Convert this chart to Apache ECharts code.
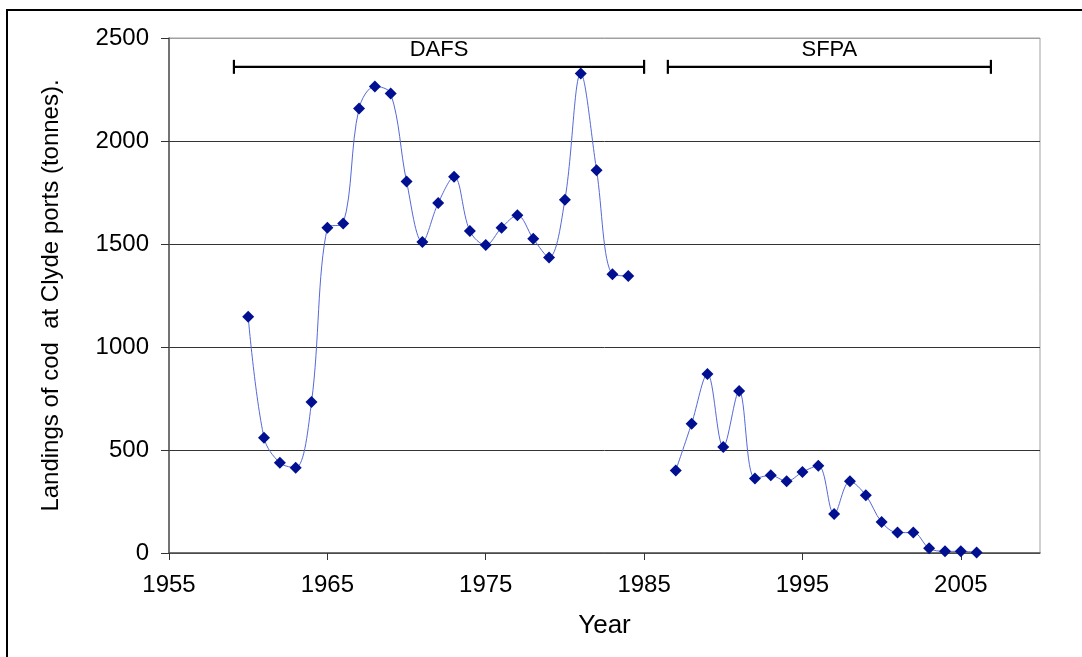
<!DOCTYPE html>
<html style="height: 100%">

<head>
    <meta charset="utf-8">
</head>

<body style="height: 100%; margin: 0; background: #fff">
    <div id="container" style="width: 1082px; height: 657px"></div>
    <script src="https://cdn.jsdelivr.net/npm/echarts@6/dist/echarts.min.js"></script>
    <script type="text/javascript">
        // landings of cod at Clyde ports, tonnes (no data for 1985, 1986)
        var years = [1960, 1961, 1962, 1963, 1964, 1965, 1966, 1967, 1968, 1969,
            1970, 1971, 1972, 1973, 1974, 1975, 1976, 1977, 1978, 1979,
            1980, 1981, 1982, 1983, 1984, 1985, 1986, 1987, 1988, 1989,
            1990, 1991, 1992, 1993, 1994, 1995, 1996, 1997, 1998, 1999,
            2000, 2001, 2002, 2003, 2004, 2005, 2006];
        var landings = [1147, 560, 438, 414, 733, 1579, 1600, 2158, 2265, 2230,
            1804, 1510, 1699, 1827, 1563, 1495, 1579, 1639, 1526, 1435,
            1715, 2328, 1858, 1353, 1345, null, null, 401, 628, 869,
            515, 786, 362, 377, 348, 393, 424, 189, 348, 280,
            150, 99, 99, 23, 8, 8, 3];

        // reporting bodies: name, first year, last year
        var periodNames = ['DAFS', 'SFPA'];
        var periodStart = [1959.1, 1986.5];
        var periodEnd = [1985.0, 2006.9];
        var periodLevel = 2360;

        var seriesData = years.map(function (y, i) { return [y, landings[i]]; });
        var periodData = periodNames.map(function (n, i) {
            return [periodStart[i], periodEnd[i], periodLevel, n];
        });

        var dom = document.getElementById("container");
        var myChart = echarts.init(dom);
        var font = 'Liberation Sans, Arial, sans-serif';

        option = {
            backgroundColor: '#fff',
            animation: false,
            graphic: [{
                type: 'rect',
                shape: { x: 7, y: 10, width: 1200, height: 800 },
                style: { fill: 'none', stroke: '#000', lineWidth: 2 },
                z: -1
            }],
            grid: {
                left: 169,
                top: 38,
                right: 42,
                bottom: 104,
                show: true,
                borderColor: '#a0a0a0',
                borderWidth: 1
            },
            xAxis: {
                type: 'value',
                min: 1955,
                max: 2010,
                interval: 10,
                name: 'Year',
                nameLocation: 'middle',
                nameGap: 60,
                nameTextStyle: { fontFamily: font, fontSize: 26, color: '#000' },
                axisLine: { onZero: false, lineStyle: { color: '#555', width: 1.5 } },
                axisTick: { show: true, length: 7, inside: false, lineStyle: { color: '#333' } },
                axisLabel: {
                    fontFamily: font, fontSize: 24, color: '#000', margin: 20,
                    showMaxLabel: false,
                    formatter: function (v) { return String(v); }
                },
                splitLine: { show: false }
            },
            yAxis: {
                type: 'value',
                min: 0,
                max: 2500,
                interval: 500,
                name: 'Landings of cod  at Clyde ports (tonnes).',
                nameLocation: 'middle',
                nameGap: 106,
                nameTextStyle: { fontFamily: font, fontSize: 24, color: '#000' },
                axisLine: { show: true, lineStyle: { color: '#555', width: 1.5 } },
                axisTick: { show: true, length: 8, lineStyle: { color: '#333' } },
                axisLabel: {
                    fontFamily: font, fontSize: 24, color: '#000', margin: 20,
                    formatter: function (v) { return String(v); }
                },
                splitLine: {
                    show: true,
                    lineStyle: { color: ['#333', '#333', '#333', '#333', '#333', '#a0a0a0'], width: 1 }
                }
            },
            series: [
                {
                    name: 'landings',
                    type: 'line',
                    data: seriesData,
                    smooth: 0.35,
                    connectNulls: false,
                    symbol: 'diamond',
                    symbolSize: 12,
                    lineStyle: { color: '#5568d8', width: 1 },
                    itemStyle: { color: '#001090' },
                    z: 3
                },
                {
                    name: 'periods',
                    type: 'custom',
                    data: periodData,
                    encode: { x: [0, 1], y: 2 },
                    renderItem: function (params, api) {
                        var a = api.coord([api.value(0), api.value(2)]);
                        var b = api.coord([api.value(1), api.value(2)]);
                        var cap = 7;
                        var st = { stroke: '#000', lineWidth: 2.2 };
                        return {
                            type: 'group',
                            children: [
                                { type: 'line', shape: { x1: a[0], y1: a[1], x2: b[0], y2: b[1] }, style: st },
                                { type: 'line', shape: { x1: a[0], y1: a[1] - cap, x2: a[0], y2: a[1] + cap }, style: st },
                                { type: 'line', shape: { x1: b[0], y1: b[1] - cap, x2: b[0], y2: b[1] + cap }, style: st },
                                {
                                    type: 'text',
                                    style: {
                                        text: api.value(3),
                                        x: (a[0] + b[0]) / 2,
                                        y: a[1] - 17,
                                        align: 'center',
                                        verticalAlign: 'middle',
                                        fill: '#000',
                                        font: '22px ' + font
                                    }
                                }
                            ]
                        };
                    },
                    z: 4
                }
            ]
        };
        if (option && typeof option === "object") {
            myChart.setOption(option, true);
        }
    </script>
</body>

</html>
